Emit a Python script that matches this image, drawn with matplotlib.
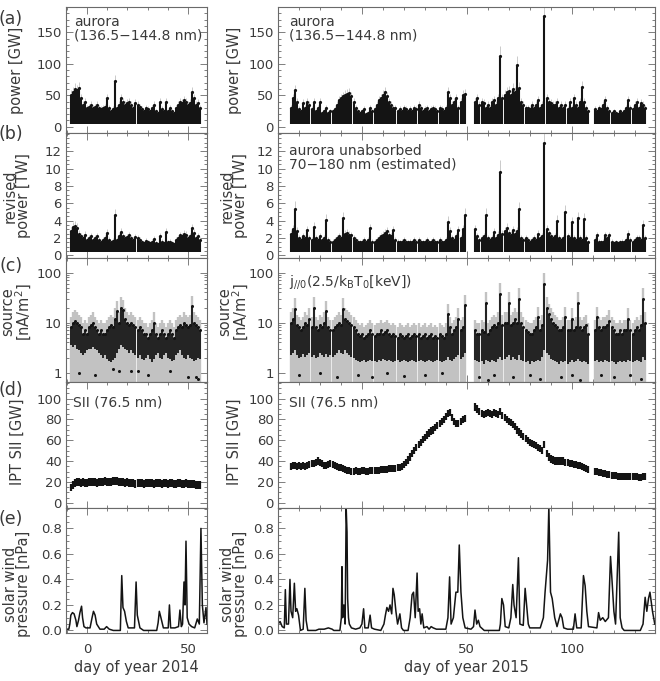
import numpy as np
import matplotlib
matplotlib.use('Agg')
import matplotlib.pyplot as plt
from matplotlib.ticker import MultipleLocator, FixedLocator, FixedFormatter, NullFormatter, FormatStrFormatter

nan = np.nan

#DAYS WITH DATA (one column per day)
day14 = np.arange(-8, 57)
day15 = np.arange(-34, 136)

#AURORA POWER [GW] - upper edge of the point cloud per day
pow14_hi = [50, 55, 60, 58, 62, 45, 35, 40, 30, 32,
            35, 30, 32, 35, 30, 28, 30, 32, 45, 30,
            25, 28, 72, 30, 35, 45, 40, 35, 38, 40,
            35, 30, 38, 35, 32, 28, 25, 30, 28, 25,
            30, 35, 25, 22, 40, 28, 25, 40, 25, 30,
            25, 22, 30, 35, 40, 38, 42, 40, 35, 38,
            55, 45, 35, 38, 30]
pow15_hi = [30, 45, 58, 40, 28, 25, 38, 30, 40, 35,
            28, 40, 25, 30, 40, 22, 25, 30, 22, 25,
            25, 28, 35, 42, 45, 48, 50, 52, 54, 48,
            40, 30, 25, 22, 25, 28, 20, 22, 30, 25,
            28, 35, 42, 45, 50, 55, 48, 40, 35, 30,
            30, 25, 28, 25, 30, 28, 25, 28, 25, 30,
            28, 35, 30, 25, 28, 30, 25, 28, 30, 28,
            25, 30, 28, 25, 30, 55, 45, 35, 40, 45,
            30, 40, 50, 52, nan, nan, nan, nan, 40, 45,
            35, 40, 38, 30, 35, 30, 40, 42, 35, 45,
            112, 45, 50, 55, 56, 50, 60, 55, 98, 62,
            40, 35, 30, 30, 28, 35, 30, 35, 43, 30,
            35, 175, 45, 40, 38, 35, 35, 40, 30, 35,
            30, 35, 28, 40, 30, 45, 35, 30, 40, 63,
            40, 30, 25, nan, nan, 28, 25, 30, 28, 35,
            43, 30, 25, 22, 25, 22, 20, 25, 22, 25,
            30, 43, 30, 28, 35, 40, 30, 38, 35, 30]
pow_floor = 5.0
pow_err = 0.15

#REVISED POWER [TW]
rev14_hi = [2.8, 3.3, 3.4, 3.2, 2.5, 2.2, 2.0, 2.4, 1.8, 2.0,
            2.2, 1.8, 2.0, 2.2, 1.8, 1.6, 1.8, 2.0, 2.6, 1.8,
            1.5, 1.7, 4.6, 1.8, 2.2, 2.7, 2.2, 2.0, 2.1, 2.3,
            2.0, 1.8, 2.1, 2.0, 1.8, 1.5, 1.4, 1.7, 1.5, 1.4,
            1.6, 1.9, 1.4, 1.3, 2.2, 1.6, 1.4, 2.7, 1.5, 1.6,
            1.4, 1.3, 1.8, 2.0, 2.3, 2.2, 2.5, 2.4, 2.0, 2.2,
            3.1, 2.6, 2.0, 2.2, 1.8]
rev15_hi = [2.5, 3.0, 5.4, 2.8, 2.0, 1.8, 2.2, 2.0, 2.9, 2.0,
            1.8, 3.3, 2.0, 1.8, 2.2, 1.8, 2.0, 4.1, 1.8, 1.6,
            1.6, 1.8, 2.0, 2.2, 2.0, 4.3, 2.5, 2.6, 2.4, 2.3,
            2.0, 1.8, 1.6, 1.5, 1.6, 1.8, 1.5, 1.8, 3.1, 1.6,
            1.6, 1.8, 2.0, 2.2, 2.4, 2.6, 2.8, 2.4, 2.2, 2.9,
            1.8, 1.6, 1.5, 1.6, 1.8, 1.6, 1.5, 1.6, 1.5, 1.8,
            1.6, 1.8, 1.6, 1.5, 1.6, 1.8, 1.5, 1.6, 1.8, 1.6,
            1.5, 1.8, 1.6, 1.5, 1.8, 3.9, 2.8, 2.0, 1.8, 2.2,
            2.9, 2.0, 3.0, 4.7, nan, nan, nan, nan, 3.0, 2.2,
            1.8, 2.0, 2.2, 4.7, 2.0, 1.8, 2.0, 2.7, 2.0, 2.4,
            9.6, 2.5, 2.8, 3.2, 2.6, 2.4, 2.9, 2.5, 2.8, 5.3,
            2.0, 1.8, 2.0, 1.8, 1.6, 1.8, 2.0, 1.8, 2.5, 2.0,
            2.2, 12.9, 3.0, 2.6, 2.2, 2.0, 2.2, 4.0, 2.0, 1.8,
            2.0, 5.0, 2.2, 2.0, 3.8, 2.0, 1.8, 4.3, 2.0, 1.8,
            4.2, 2.0, 1.5, nan, nan, 1.8, 2.3, 1.6, 1.5, 1.6,
            2.3, 2.0, 2.3, 1.6, 1.4, 1.5, 1.4, 1.5, 1.6, 1.5,
            1.8, 2.5, 1.8, 1.6, 1.8, 2.0, 2.0, 1.8, 3.5, 2.0]
rev_floor = 0.4

#SOURCE CURRENT [nA/m2] - upper and lower edge of the dense cloud
src14_hi = [8, 10, 11, 10, 9, 8, 6, 7, 6, 8,
            9, 10, 8, 7, 6, 7, 6, 6, 7, 8,
            9, 8, 12, 17, 10, 20, 18, 12, 10, 9,
            10, 9, 8, 7, 8, 7, 6, 6, 5, 6,
            7, 10, 6, 5, 6, 7, 6, 5, 6, 7,
            6, 5, 7, 8, 9, 8, 10, 9, 8, 9,
            21, 10, 9, 8, 7]
src14_lo = [3.5, 3.2, 3.5, 3.0, 2.8, 2.5, 2.2, 2.5, 2.8, 3.0,
            3.0, 3.2, 3.0, 2.8, 2.5, 2.2, 2.0, 2.2, 1.9, 1.7,
            1.6, 1.8, 2.0, 2.5, 3.0, 3.5, 3.2, 3.0, 2.8, 2.5,
            2.8, 2.5, 2.2, 2.0, 2.2, 1.9, 1.8, 2.0, 2.2, 1.9,
            1.6, 1.9, 2.2, 2.5, 2.0, 1.9, 2.2, 2.5, 2.0, 1.9,
            1.7, 1.8, 2.2, 2.5, 2.8, 2.2, 2.0, 1.9, 2.2, 2.0,
            1.9, 1.7, 1.8, 2.0, 1.9]
src15_hi = [10, 12, 19, 9, 8, 7, 8, 10, 9, 12,
            8, 20, 8, 7, 9, 8, 10, 17, 8, 7,
            7, 8, 9, 10, 9, 19, 12, 11, 10, 9,
            8, 7, 6, 5.5, 6, 5, 5.5, 6, 7, 6,
            5.5, 6, 6, 7, 6, 6.5, 7, 6, 5.5, 6,
            5.5, 5, 6, 5.5, 5, 5.5, 6, 5, 5.5, 6,
            5.5, 6, 5, 5.5, 6, 5, 5.5, 6, 5, 5.5,
            5, 6, 5.5, 5, 6, 15, 8, 6, 7, 8,
            12, 7, 8, 22, nan, nan, nan, nan, 7, 6,
            6, 7, 6.5, 25, 6, 7, 8, 9, 8, 10,
            38, 9, 10, 10, 25, 9, 10, 12, 10, 30,
            10, 8, 7, 6.5, 6, 6, 7, 8, 13, 7,
            9, 60, 20, 15, 12, 10, 9, 8, 7, 7,
            8, 13, 7, 7, 12, 7, 8, 25, 8, 7,
            8, 9, 6, nan, nan, 7, 13, 8, 7, 8,
            8, 9, 11, 8, 7, 6, 6, 7, 6, 7,
            7, 12, 7, 6, 7, 8, 7, 9, 30, 10]
src15_lo = [2.2, 2.5, 2.8, 2.2, 2.0, 2.1, 2.4, 2.1, 2.2, 2.5,
            2.1, 2.2, 2.0, 2.1, 2.5, 2.2, 2.1, 2.4, 2.1, 2.2,
            2.1, 2.2, 2.5, 2.8, 2.5, 2.4, 2.8, 2.5, 2.2, 2.1,
            2.0, 1.8, 1.7, 1.6, 1.7, 1.8, 1.6, 1.7, 1.8, 1.7,
            1.7, 1.6, 1.8, 1.7, 1.9, 1.8, 1.7, 1.8, 1.7, 1.6,
            1.7, 1.8, 1.6, 1.7, 1.8, 1.7, 1.6, 1.7, 1.8, 1.7,
            1.6, 1.7, 1.8, 1.7, 1.6, 1.7, 1.8, 1.7, 1.6, 1.7,
            1.8, 1.7, 1.6, 1.7, 1.8, 2.1, 1.8, 1.7, 1.9, 2.1,
            2.2, 1.9, 2.1, 2.5, nan, nan, nan, nan, 1.8, 1.7,
            1.6, 1.7, 1.5, 1.8, 1.7, 1.6, 1.8, 1.7, 1.6, 1.9,
            2.1, 1.8, 1.9, 2.1, 2.2, 1.8, 2.1, 1.9, 1.8, 2.2,
            1.8, 1.7, 1.6, 1.7, 1.5, 1.7, 1.6, 1.7, 1.8, 1.7,
            2.1, 2.8, 2.5, 2.2, 1.9, 1.8, 1.7, 1.6, 1.5, 1.7,
            1.6, 1.7, 1.5, 1.6, 1.8, 1.6, 1.7, 1.9, 1.7, 1.6,
            1.7, 1.6, 1.5, nan, nan, 1.7, 1.8, 1.6, 1.7, 1.6,
            1.8, 1.7, 1.6, 1.7, 1.6, 1.5, 1.6, 1.7, 1.6, 1.7,
            1.6, 1.8, 1.7, 1.6, 1.7, 1.8, 1.7, 1.6, 2.1, 1.8]
src_err_top = 1.6
#isolated low points below the dense cloud
src14_out_day = [-4, 4, 13, 16, 22, 25, 30, 41, 50, 54, 55]
src14_out_val = [1.0, 0.9, 1.2, 1.1, 1.1, 1.1, 0.9, 1.1, 0.8, 0.8, 0.75]
src15_out_day = [-30, -20, -12, -2, 5, 12, 20, 30, 38, 56, 60, 63, 72, 80, 85, 95, 100,
                 104, 114, 120, 128, 133]
src15_out_val = [0.9, 1.0, 0.8, 0.9, 0.8, 1.0, 0.85, 0.9, 1.0, 0.8, 0.7, 0.9, 0.8, 0.9,
                 0.75, 0.8, 0.9, 0.7, 0.9, 0.8, 0.9, 0.75]

#IPT SII [GW] - centre of the band per day
ipt14 = [15, 17, 19, 20, 20, 19, 20, 19, 19, 20,
         20, 20, 20, 19, 20, 20, 20, 21, 20, 20,
         20, 21, 21, 21, 20, 20, 20, 19, 20, 19,
         19, 19, 18, 19, 19, 19, 18, 19, 19, 19,
         19, 18, 19, 19, 19, 18, 19, 19, 18, 19,
         19, 18, 18, 19, 19, 18, 18, 19, 18, 18,
         18, 18, 17, 17, 17]
ipt15 = [35, 36, 36, 35, 36, 35, 36, 35, 36, 37,
         38, 38, 39, 40, 39, 38, 36, 36, 37, 38,
         37, 36, 35, 34, 34, 33, 32, 31, 31, 30,
         30, 31, 30, 30, 31, 31, 30, 30, 31, 31,
         31, 31, 31, 32, 32, 32, 32, 33, 33, 33,
         33, 34, 34, 35, 37, 39, 41, 44, 47, 50,
         53, 56, 58, 61, 63, 65, 67, 69, 70, 72,
         74, 76, 78, 80, 83, 86, 87, 82, 78, 76,
         76, 78, 80, 81, nan, nan, nan, nan, 92, 90,
         88, 86, 85, 86, 87, 86, 85, 87, 86, 85,
         88, 84, 82, 80, 78, 77, 75, 73, 70, 68,
         66, 64, 62, 60, 58, 57, 56, 55, 53, 52,
         50, 56, 47, 44, 42, 41, 40, 40, 40, 40,
         40, 39, 39, 38, 38, 37, 37, 36, 36, 35,
         34, 33, 32, nan, nan, 30, 30, 29, 29, 28,
         28, 27, 27, 26, 26, 26, 25, 25, 25, 25,
         25, 25, 25, 25, 25, 25, 24, 24, 25, 25]
ipt_spread = 3.5

#SOLAR WIND PRESSURE [nPa]
sw14_day = [-10.4, -9, -8.5, -8, -7.2, -6.4, -5.5, -5, -4.2, -3.5, -2.7, -2.2, -1.5, -0.5,
            1.5, 2.5, 3.2, 4, 4.8, 6.4, 8.5, 9.7, 11, 13, 16.5, 17.2, 17.8, 18.6, 19.5,
            20.4, 23.5, 24.3, 24.9, 26.2, 28, 34.5, 35.2, 35.8, 36.6, 37.8, 40.2, 40.8,
            41.4, 43.5, 45.3, 46.0, 46.7, 47.3, 48.0, 48.5, 49.0, 49.6, 50.5, 51.8, 53.3,
            54.6, 55.6, 56.4, 57.1, 57.9, 58.9, 59.4]
sw14_p = [0.01, 0.01, 0.05, 0.12, 0.14, 0.13, 0.08, 0.03, 0.08, 0.14, 0.19, 0.10, 0.03, 0.02,
          0.02, 0.10, 0.15, 0.12, 0.05, 0.01, 0.01, 0.03, 0.01, 0.0, 0.0, 0.43, 0.18, 0.15, 0.07,
          0.02, 0.02, 0.38, 0.12, 0.02, 0.0, 0.0, 0.06, 0.15, 0.10, 0.02, 0.02, 0.20,
          0.02, 0.02, 0.03, 0.16, 0.03, 0.05, 0.38, 0.20, 0.70, 0.10, 0.05, 0.03, 0.02,
          0.09, 0.05, 0.80, 0.20, 0.06, 0.18, 0.05]
sw15_day = [-40, -39, -38, -37, -36.5, -36, -35, -34.3, -33.8, -33, -32.2, -31.6, -31, -30.2,
            -29.3, -28, -27.2, -26.6, -25.8, -22, -20.5, -18, -16, -14.2, -13.4, -10.5,
            -9.8, -9.5, -9.2, -8.6, -8.0, -7.5, -7.1, -6.8, -6.4, -6.0, -5, -3, -1, 0, 0.8,
            1.4, 3, 3.9, 4.6, 6, 9, 10.5, 11.2, 11.9, 12.7, 13.4, 14.2, 14.8, 15.4, 16.2,
            17, 18.1, 18.9, 19.8, 22, 23, 23.9, 24.6, 25.4, 26.3, 26.8, 27.5, 28.1, 28.7,
            29.5, 31, 32, 33, 34, 35.5, 40, 41, 41.8, 42.5, 43.6, 44.8, 45.7, 46.4, 47.2,
            48.1, 49.2, 52, 53.2, 53.9, 54.7, 55.5, 56.3, 58.3, 65.5, 66.0, 66.7, 67.5,
            68.3, 70, 71, 71.9, 72.5, 73.5, 74.6, 75.3, 76.9, 77.8, 78.5, 79.3, 80, 85,
            86.5, 87.3, 88.5, 89.1, 89.9, 90.7, 91.9, 93.0, 94.6, 95.4, 96.2, 98, 100.8,
            101.6, 102.4, 104.5, 105.6, 106.4, 107.2, 108, 112, 112.8, 113.6, 114.8, 116,
            117.5, 118.5, 119, 120.1, 120.9, 122.4, 123.1, 124, 125, 132.7, 134, 135,
            135.8, 136.6, 137.3, 138.5, 139.6]
sw15_p = [0.05, 0.07, 0.03, 0.02, 0.32, 0.05, 0.05, 0.40, 0.15, 0.10, 0.37, 0.15, 0.17, 0.12,
          0.0, 0.01, 0.33, 0.08, 0.0, 0.0, 0.01, 0.01, 0.02, 0.01, 0.0, 0.0,
          0.1, 0.5, 0.1, 0.2, 0.05, 0.96, 0.77, 0.25, 0.1, 0.05, 0.02, 0.01, 0.02, 0.05, 0.17,
          0.02, 0.02, 0.12, 0.02, 0.01, 0.0, 0.05, 0.12, 0.18, 0.15, 0.2, 0.13, 0.33, 0.28, 0.15,
          0.05, 0.13, 0.02, 0.0, 0.0, 0.1, 0.28, 0.3, 0.1, 0.45, 0.15, 0.17, 0.05, 0.13,
          0.02, 0.03, 0.01, 0.03, 0.02, 0.01, 0.01, 0.1, 0.42, 0.05, 0.1, 0.3, 0.3, 0.67, 0.3,
          0.1, 0.02, 0.01, 0.03, 0.16, 0.05, 0.08, 0.03, 0.0, 0.0, 0.05, 0.25, 0.2,
          0.03, 0.02, 0.1, 0.36, 0.2, 0.1, 0.57, 0.05, 0.04, 0.33, 0.2, 0.05, 0.02, 0.02,
          0.1, 0.3, 0.55, 0.97, 0.3, 0.25, 0.1, 0.03, 0.13, 0.1, 0.02, 0.01, 0.01,
          0.13, 0.02, 0.02, 0.43, 0.35, 0.15, 0.03, 0.02, 0.14, 0.08, 0.1, 0.07,
          0.1, 0.58, 0.45, 0.15, 0.05, 0.77, 0.1, 0.02, 0.0, 0.0, 0.05, 0.26,
          0.15, 0.25, 0.30, 0.15, 0.05]

#TEXTS
panel_letters = ["(a)", "(b)", "(c)", "(d)", "(e)"]
ylabels = ["power [GW]", "revised\npower [TW]", "source\n[nA/m$^2$]", "IPT SII [GW]",
           "solar wind\npressure [nPa]"]

#FIGURE LAYOUT IN PIXELS
W, H = 660, 681
fig = plt.figure(figsize=(W/100, H/100), dpi=100)
cols = [(66, 207), (278, 655)]
rows = [(7, 133), (133, 258), (258, 382), (382, 508), (508, 633)]
label_yc = [70, 196, 312, 442, 584]
letter_y = [19, 134, 266, 390, 519]
TXT = '#3a3a3a'
AXC = '#6a6a6a'
BLK = '#141414'
GRY = '#c2c2c2'
plt.rcParams['font.family'] = 'DejaVu Sans'


def make_axes(c, r):
    x0, x1 = cols[c]
    y0, y1 = rows[r]
    ax = fig.add_axes([x0/W, 1-y1/H, (x1-x0)/W, (y1-y0)/H])
    for s in ax.spines.values():
        s.set_color(AXC)
        s.set_linewidth(0.8)
    ax.tick_params(which='both', direction='in', top=True, right=True, color=AXC,
                   labelcolor=TXT, labelsize=9.5, width=0.6)
    ax.tick_params(axis='y', pad=3)
    ax.tick_params(axis='x', pad=7)
    ax.tick_params(which='major', length=5)
    ax.tick_params(which='minor', length=2.5)
    if c == 0:
        ax.set_xlim(-10.4, 59.4)
    else:
        ax.set_xlim(-40, 139.7)
    ax.xaxis.set_major_locator(MultipleLocator(50))
    ax.xaxis.set_minor_locator(MultipleLocator(10))
    if r < 4:
        ax.xaxis.set_major_formatter(NullFormatter())
    return ax


def ftext(x, y, s, **kw):
    fig.text(x/W, 1-y/H, s, color=TXT, **kw)


for c in range(2):
    days = day14 if c == 0 else day15
    phi = np.array(pow14_hi if c == 0 else pow15_hi, dtype=float)
    rhi = np.array(rev14_hi if c == 0 else rev15_hi, dtype=float)
    shi = np.array(src14_hi if c == 0 else src15_hi, dtype=float)
    slo = np.array(src14_lo if c == 0 else src15_lo, dtype=float)
    ipt = np.array(ipt14 if c == 0 else ipt15, dtype=float)

    #(a) POWER
    ax = make_axes(c, 0)
    ax.vlines(days, phi, phi*(1+pow_err), color=GRY, lw=0.6)
    ax.vlines(days, pow_floor, phi, color=BLK, lw=1.5)
    ax.plot(days, phi, ls='none', marker='o', ms=2.3, mew=0, color=BLK)
    ax.set_ylim(-10, 190)
    ax.yaxis.set_major_locator(FixedLocator([0, 50, 100, 150]))
    ax.yaxis.set_minor_locator(MultipleLocator(10))

    #(b) REVISED POWER
    ax = make_axes(c, 1)
    ax.vlines(days, rhi, rhi*(1+pow_err), color=GRY, lw=0.6)
    ax.vlines(days, rev_floor, rhi, color=BLK, lw=1.5)
    ax.plot(days, rhi, ls='none', marker='o', ms=2.3, mew=0, color=BLK)
    ax.set_ylim(-0.3, 14.1)
    ax.yaxis.set_major_locator(FixedLocator([0, 2, 4, 6, 8, 10, 12]))
    ax.yaxis.set_minor_locator(MultipleLocator(0.5))

    #(c) SOURCE
    ax = make_axes(c, 2)
    ax.set_yscale('log')
    ax.vlines(days, 0.5, shi*src_err_top, color=GRY, lw=1.7)
    ax.vlines(days, slo, shi, color=BLK, lw=1.3)
    ax.plot(days, shi, ls='none', marker='o', ms=2.2, mew=0, color=BLK)
    if c == 0:
        ax.plot(src14_out_day, src14_out_val, ls='none', marker='o', ms=2.2, mew=0, color=BLK)
    else:
        ax.plot(src15_out_day, src15_out_val, ls='none', marker='o', ms=2.2, mew=0, color=BLK)
    ax.set_ylim(0.65, 195)
    ax.yaxis.set_major_locator(FixedLocator([1, 10, 100]))
    ax.yaxis.set_major_formatter(FixedFormatter(['1', '10', '100']))
    ax.yaxis.set_minor_locator(FixedLocator([v*m for m in (1, 10, 100) for v in range(2, 10)]))
    ax.yaxis.set_minor_formatter(NullFormatter())
    ax.tick_params(which='both', direction='in', right=True, top=True, color=AXC,
                   labelcolor=TXT, labelsize=9.5)

    #(d) IPT SII
    ax = make_axes(c, 3)
    ax.vlines(days, ipt-ipt_spread, ipt+ipt_spread, color=BLK, lw=1.6)
    ax.set_ylim(-5, 116)
    ax.yaxis.set_major_locator(FixedLocator([0, 20, 40, 60, 80, 100]))
    ax.yaxis.set_minor_locator(MultipleLocator(5))

    #(e) SOLAR WIND
    ax = make_axes(c, 4)
    if c == 0:
        ax.plot(sw14_day, sw14_p, color=BLK, lw=1.1)
    else:
        ax.plot(sw15_day, sw15_p, color=BLK, lw=1.1)
    ax.set_ylim(-0.02, 0.96)
    ax.yaxis.set_major_locator(FixedLocator([0.0, 0.2, 0.4, 0.6, 0.8]))
    ax.yaxis.set_minor_locator(MultipleLocator(0.05))
    ax.yaxis.set_major_formatter(FormatStrFormatter('%.1f'))
    ax.set_xlabel("day of year 2014" if c == 0 else "day of year 2015", color=TXT,
                  fontsize=10.5, labelpad=3)

#Y LABELS AND PANEL LETTERS
for r in range(5):
    ftext(17, label_yc[r], ylabels[r], rotation=90, ha='center', va='center',
          fontsize=10.5, multialignment='center', linespacing=0.9)
    ftext(234, label_yc[r], ylabels[r], rotation=90, ha='center', va='center',
          fontsize=10.5, multialignment='center', linespacing=0.9)
    ftext(11, letter_y[r], panel_letters[r], ha='center', va='center', fontsize=12.5)

#ANNOTATIONS
ftext(74, 29, "aurora\n(136.5\u2212144.8 nm)", ha='left', va='center', fontsize=10, linespacing=0.95)
ftext(289, 29, "aurora\n(136.5\u2212144.8 nm)", ha='left', va='center', fontsize=10, linespacing=0.95)
ftext(289, 158, "aurora unabsorbed\n70\u2212180 nm (estimated)", ha='left', va='center',
      fontsize=10, linespacing=0.95)
ftext(289, 282, r"j$_{//0}$(2.5/k$_\mathrm{B}$T$_0$[keV])", ha='left', va='center', fontsize=10)
ftext(73, 402, "SII (76.5 nm)", ha='left', va='center', fontsize=10)
ftext(289, 402, "SII (76.5 nm)", ha='left', va='center', fontsize=10)

fig.savefig("out.png", dpi=100)
